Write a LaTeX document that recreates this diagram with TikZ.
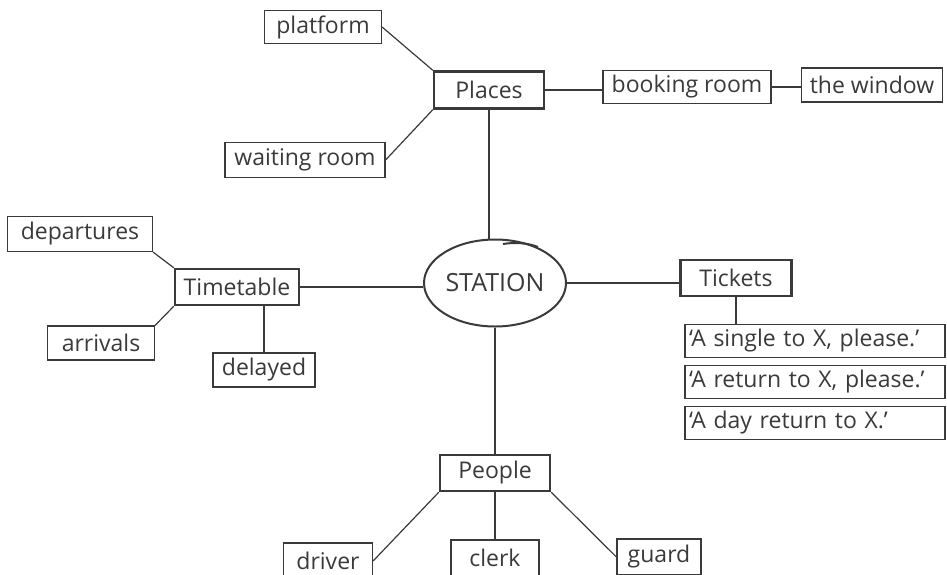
\documentclass[tikz,border=0pt]{standalone}
\usepackage{fontspec}
\setmainfont{Open Sans}
\usetikzlibrary{shapes.geometric}
\definecolor{ink}{HTML}{3A3A3A}
\tikzset{
  leaf/.style={draw=ink, line width=0.6pt, text=ink, inner sep=0pt, font=\fontsize{11.5}{13}\selectfont},
  hub/.style={leaf, line width=1.2pt},
  link/.style={draw=ink, line width=0.6pt},
  spoke/.style={draw=ink, line width=0.9pt},
}
\begin{document}
\begin{tikzpicture}[x=0.5pt,y=-0.5pt]
\useasboundingbox[fill=white] (0,0) rectangle (947,574);
% centre
\node[draw=ink, line width=1pt, ellipse, minimum width=71pt, minimum height=43.5pt, inner sep=0pt, text=ink, font=\fontsize{12.5}{14}\selectfont] (station) at (495,283) {STATION};
\draw[ink, line width=1pt] (503,244) .. controls (515,242) and (528,243) .. (538,247);
% Places branch
\node[hub, minimum width=55pt, minimum height=18.5pt] (places) at (489,90) {Places};
\node[leaf, minimum width=58.5pt, minimum height=16.5pt] (platform) at (323,27) {platform};
\node[leaf, minimum width=80pt, minimum height=17.5pt] (waiting) at (305,160) {waiting room};
\node[leaf, minimum width=84pt, minimum height=16.5pt] (booking) at (687,87) {booking room};
\node[leaf, minimum width=70.5pt, minimum height=17pt] (window) at (872,85) {the window};
% Timetable branch
\node[hub, minimum width=62pt, minimum height=18pt] (timetable) at (237,287) {Timetable};
\node[leaf, minimum width=72.5pt, minimum height=17.5pt] (departures) at (80,234) {departures};
\node[leaf, minimum width=53.5pt, minimum height=17pt] (arrivals) at (101,343) {arrivals};
\node[leaf, minimum width=51pt, minimum height=17pt] (delayed) at (264,370) {delayed};
% Tickets branch
\node[hub, minimum width=55.5pt, minimum height=18pt] (tickets) at (736,278) {Tickets};
\node[leaf, minimum width=130pt, minimum height=16.5pt, text width=126pt, align=left] (t1) at (815,341) {‘A single to X, please.’};
\node[leaf, minimum width=130pt, minimum height=16.5pt, text width=126pt, align=left] (t2) at (815,382) {‘A return to X, please.’};
\node[leaf, minimum width=130pt, minimum height=16.5pt, text width=126pt, align=left] (t3) at (815,423) {‘A day return to X.’};
% People branch
\node[hub, minimum width=55pt, minimum height=18pt] (people) at (495,473) {People};
\node[leaf, minimum width=44.5pt, minimum height=18pt] (driver) at (328,561) {driver};
\node[leaf, minimum width=44pt, minimum height=18pt] (clerk) at (495,558) {clerk};
\node[leaf, minimum width=42pt, minimum height=18pt] (guard) at (659,557) {guard};
% connectors
\draw[link] (platform.east) -- (places.north west);
\draw[link] (waiting.east) -- (places.south west);
\draw[link] (places.east) -- (places.east -| booking.west);
\draw[link] (booking.east) -- (booking.east -| window.west);
\draw[spoke] (places.south) -- (places.south |- station.north);
\draw[link] (departures.south east) -- (timetable.north west);
\draw[link] (arrivals.north east) -- (timetable.south west);
\draw[link] (delayed.north) -- (delayed.north |- timetable.south);
\draw[spoke] (timetable.east) -- (timetable.east -| station.west);
\draw[spoke] (station.east) -- (station.east -| tickets.west);
\draw[link] (tickets.south) -- (tickets.south |- t1.north);
\draw[spoke] (station.south) -- (people.north);
\draw[link] (people.south west) -- (driver.east);
\draw[link] (people.south) -- (clerk.north);
\draw[link] (people.south east) -- (guard.west);
\end{tikzpicture}
\end{document}
